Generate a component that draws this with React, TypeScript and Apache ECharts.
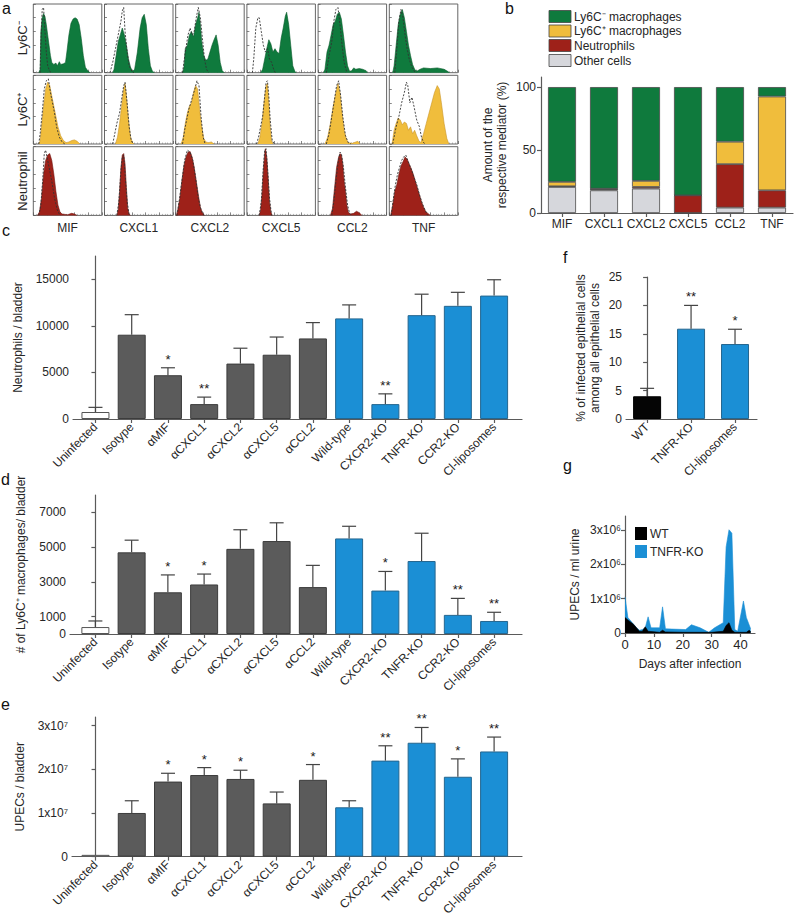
import React, { useEffect, useRef } from 'react';
import * as echarts from 'echarts';

const FONT = '"Liberation Sans", Arial, Helvetica, sans-serif';
const TXT = '#262626';
const AX = '#5a5a5a';

// ---------- panel a: flow cytometry histograms (x: % of box width, y: % of box height) ----------
const histMarkers = ['MIF', 'CXCL1', 'CXCL2', 'CXCL5', 'CCL2', 'TNF'];
const histRows = ['Ly6C⁻', 'Ly6C⁺', 'Neutrophil'];
const rowColors = ['#0f7a3d', '#f0bd3c', '#9e2119'];
const rowLineColors = ['#0a5a2c', '#c9962a', '#6e1510'];

const lyNegFill = [
  [[8,0],[10,5],[11,60],[13,80],[15,86],[17,82],[19,70],[21,55],[23,40],[25,25],[27,15],[30,12],[33,14],[35,10],[38,16],[40,12],[44,13],[47,15],[49,30],[52,55],[55,72],[58,78],[61,80],[64,78],[67,70],[70,50],[73,25],[76,8],[80,2],[83,0]],
  [[12,0],[14,5],[17,25],[20,45],[23,55],[26,65],[29,55],[32,40],[35,20],[38,8],[41,2],[44,5],[48,30],[52,65],[55,80],[58,85],[61,70],[64,35],[67,10],[70,2],[73,0]],
  [[10,0],[12,8],[14,35],[17,40],[20,55],[23,60],[26,52],[29,70],[32,80],[34,88],[36,70],[38,45],[41,25],[44,18],[47,20],[50,30],[53,40],[56,48],[59,55],[62,40],[65,15],[68,3],[71,0]],
  [[20,0],[23,5],[26,20],[29,35],[32,48],[35,42],[38,30],[41,35],[44,30],[47,28],[50,50],[53,65],[56,82],[58,88],[61,70],[64,40],[67,10],[70,2],[72,0]],
  [[8,0],[10,5],[13,30],[16,40],[19,55],[22,70],[25,75],[28,85],[31,88],[34,78],[37,55],[40,30],[43,10],[46,2],[49,3],[52,7],[55,5],[60,6],[65,5],[70,3],[72,0]],
  [[5,0],[7,10],[10,40],[13,70],[16,85],[19,92],[22,80],[25,60],[28,40],[31,25],[34,12],[37,5],[40,2],[45,5],[50,7],[60,6],[70,7],[80,5],[85,2],[88,0]],
];
const lyNegIso = [
  [[10,0],[11,40],[13,92],[15,95],[17,60],[19,30],[21,10],[24,2],[27,0]],
  [[8,0],[12,15],[16,35],[20,55],[24,75],[26,90],[28,95],[30,60],[33,30],[36,10],[40,2],[43,0]],
  [[10,0],[14,30],[18,55],[21,65],[24,55],[27,60],[30,80],[33,95],[36,80],[39,50],[42,20],[45,5],[48,0]],
  [[8,0],[10,20],[13,65],[16,80],[18,80],[21,60],[24,40],[27,30],[30,35],[33,20],[36,15],[40,2],[43,0]],
  [[12,0],[16,25],[20,45],[23,75],[26,92],[29,95],[32,70],[35,40],[38,15],[42,0]],
  [[8,0],[11,35],[14,75],[17,92],[20,80],[23,55],[26,35],[29,20],[33,8],[38,0]],
];
const lyPosFill = [
  [[8,0],[10,5],[12,25],[15,55],[18,80],[21,90],[24,85],[27,70],[30,55],[33,40],[36,25],[40,12],[44,5],[48,2],[52,3],[56,5],[60,6],[64,4],[68,0]],
  [[16,0],[19,10],[22,30],[25,55],[28,80],[30,88],[32,70],[35,35],[38,10],[41,2],[43,0]],
  [[8,0],[11,10],[14,30],[17,45],[20,55],[23,60],[26,75],[29,85],[32,80],[35,50],[38,25],[41,8],[44,3],[48,2],[52,3],[56,0]],
  [[16,0],[19,10],[22,30],[25,60],[28,85],[30,88],[32,60],[34,25],[36,5],[38,0]],
  [[10,0],[14,10],[18,30],[22,55],[26,75],[29,88],[32,75],[35,45],[38,20],[41,8],[44,2],[50,1],[55,3],[58,4],[61,0]],
  [[4,0],[7,20],[10,30],[13,38],[16,35],[19,28],[22,32],[25,30],[28,20],[31,25],[34,15],[37,20],[40,12],[43,5],[46,2],[50,15],[54,30],[58,45],[62,60],[66,75],[70,85],[73,80],[76,60],[80,30],[84,8],[87,0]],
];
const lyPosIso = [
  [[8,0],[10,15],[13,45],[16,80],[19,92],[22,95],[25,75],[28,60],[31,45],[34,25],[38,10],[42,3],[46,0]],
  [[12,0],[15,15],[18,30],[22,45],[25,65],[28,85],[30,90],[33,60],[36,25],[39,5],[42,0]],
  [[10,0],[13,20],[16,35],[19,50],[22,60],[25,70],[28,80],[31,92],[34,85],[37,40],[40,10],[43,0]],
  [[14,0],[17,10],[20,25],[23,40],[26,70],[28,90],[30,92],[32,70],[34,35],[37,5],[40,0]],
  [[12,0],[16,15],[20,40],[24,65],[27,85],[30,92],[33,70],[36,40],[40,12],[44,2],[48,0]],
  [[5,0],[10,25],[14,40],[18,60],[22,75],[25,90],[27,85],[30,60],[33,68],[36,55],[40,35],[44,25],[47,10],[50,2],[53,0]],
];
const neutFill = [
  [[6,0],[9,5],[12,25],[15,60],[18,80],[21,88],[24,90],[27,80],[30,60],[33,35],[36,15],[39,5],[42,2],[50,1],[56,3],[60,2],[64,0]],
  [[18,0],[20,8],[22,35],[24,70],[26,88],[28,90],[30,75],[32,40],[34,10],[36,2],[38,0]],
  [[1,0],[3,8],[6,25],[9,50],[12,72],[15,85],[18,92],[21,93],[24,85],[27,70],[30,50],[33,30],[36,12],[39,4],[42,0]],
  [[18,0],[20,8],[22,30],[24,65],[26,90],[27,97],[29,85],[31,55],[33,20],[35,5],[37,0]],
  [[18,0],[21,10],[24,40],[27,70],[30,85],[32,90],[34,88],[36,75],[38,50],[40,35],[42,15],[44,5],[47,2],[52,3],[56,6],[60,4],[64,0]],
  [[2,0],[5,15],[8,35],[11,45],[14,60],[17,72],[20,78],[23,85],[26,82],[29,75],[32,68],[35,60],[38,50],[41,40],[44,30],[47,20],[50,12],[53,6],[56,3],[60,0]],
];
const neutIso = [
  [[8,0],[11,15],[14,55],[16,90],[18,95],[20,85],[23,70],[27,50],[31,25],[35,8],[39,0]],
  [[18,0],[21,20],[24,65],[26,85],[28,88],[30,60],[33,20],[36,0]],
  [[2,0],[5,20],[9,50],[13,80],[17,95],[21,92],[25,80],[29,55],[33,25],[37,8],[41,0]],
  [[18,0],[21,20],[24,70],[26,95],[28,97],[30,70],[33,25],[36,0]],
  [[20,0],[23,20],[26,50],[29,75],[32,92],[34,90],[37,70],[40,40],[43,15],[46,3],[49,0]],
  [[3,0],[6,25],[9,45],[12,60],[15,70],[18,80],[21,85],[24,88],[27,80],[30,72],[33,65],[36,55],[40,45],[44,30],[48,18],[52,8],[56,0]],
];

// ---------- panel b ----------
const bCats = ['MIF', 'CXCL1', 'CXCL2', 'CXCL5', 'CCL2', 'TNF'];
const bOther = [20.7, 18, 19.4, 0, 4.3, 4.3];
const bNeut = [0.5, 1, 1.3, 14, 34.5, 13.7];
const bLy6cPos = [3.5, 0.3, 4.8, 0, 17.8, 74.5];
const bLy6cNeg = [75.3, 80.7, 74.5, 86, 43.4, 7.5];
const bLegend = ['Ly6C⁻ macrophages', 'Ly6C⁺ macrophages', 'Neutrophils', 'Other cells'];
const bColors = ['#0f7a3d', '#f0bd3c', '#9e2119', '#d6d7dc'];

// ---------- panels c, d, e ----------
const groups = ['Uninfected', 'Isotype', 'αMIF', 'αCXCL1', 'αCXCL2', 'αCXCL5', 'αCCL2', 'Wild-type', 'CXCR2-KO', 'TNFR-KO', 'CCR2-KO', 'Cl-liposomes'];
const groupKind = ['white', 'gray', 'gray', 'gray', 'gray', 'gray', 'gray', 'blue', 'blue', 'blue', 'blue', 'blue'];

const neutMean = [750, 9050, 4700, 1600, 5950, 6900, 8650, 10800, 1600, 11150, 12150, 13250];
const neutErr = [1250, 11200, 5500, 2350, 7600, 8800, 10350, 12250, 2700, 13400, 13600, 14950];
const neutStars = ['', '', '*', '**', '', '', '', '', '**', '', '', ''];

const macMean = [400, 4700, 2400, 2850, 4900, 5350, 2700, 5500, 2500, 4200, 1100, 750];
const macErr = [750, 5400, 3400, 3450, 6000, 6400, 3950, 6200, 3600, 5800, 2050, 1250];
const macStars = ['', '', '*', '*', '', '', '', '', '*', '', '**', '**'];

const upecMean = [0.04e7, 1.0e7, 1.72e7, 1.87e7, 1.78e7, 1.22e7, 1.76e7, 1.13e7, 2.2e7, 2.61e7, 1.83e7, 2.41e7];
const upecErr = [0.04e7, 1.28e7, 1.91e7, 2.04e7, 1.98e7, 1.48e7, 2.11e7, 1.28e7, 2.54e7, 2.96e7, 2.24e7, 2.74e7];
const upecStars = ['', '', '*', '*', '*', '', '*', '', '**', '**', '*', '**'];

// ---------- panel f ----------
const fGroups = ['WT', 'TNFR-KO', 'Cl-liposomes'];
const fKind = ['black', 'blue', 'blue'];
const fMean = [4.0, 15.9, 13.2];
const fErr = [5.4, 20.0, 15.8];
const fStars = ['', '**', '*'];

// ---------- panel g (day, UPECs / ml urine) ----------
const gTnfrKo = [[0,1050000],[1,450000],[2,350000],[4,150000],[5,80000],[6,100000],[7,150000],[8,470000],[9,150000],[12,150000],[13,760000],[14,120000],[21,100000],[23,240000],[26,150000],[29,20000],[31,150000],[34,300000],[35,2500000],[36,3000000],[37,2900000],[38,100000],[39,50000],[41,930000],[42,450000],[43,230000],[43.5,120000]];
const gWt = [[0,450000],[1,380000],[3,250000],[5,50000],[6,50000],[7,180000],[8,50000],[12,20000],[13,80000],[14,30000],[20,20000],[30,20000],[34,50000],[35,220000],[36,300000],[37,80000],[38,20000],[42,20000],[43,80000],[43.5,40000]];

const kindColor: Record<string, string> = { white: '#ffffff', gray: '#5b5b5b', blue: '#1b8fd5', black: '#050505' };
const kindBorder: Record<string, string> = { white: '#555555', gray: '#3c3c3c', blue: '#25668f', black: '#000000' };

function buildOption() {
  const grid: any[] = [];
  const xAxis: any[] = [];
  const yAxis: any[] = [];
  const series: any[] = [];
  const graphic: any[] = [];

  const axLine = { show: true, lineStyle: { color: AX, width: 1.2 } };
  const axTick = (extra: any = {}) => ({ show: true, length: 4, lineStyle: { color: AX, width: 1.2 }, ...extra });
  const axLabel = (extra: any = {}) => ({ color: TXT, fontSize: 12, fontFamily: FONT, ...extra });

  // ----- panel a -----
  const fills = [lyNegFill, lyPosFill, neutFill];
  const isos = [lyNegIso, lyPosIso, neutIso];
  const tops = [4, 75.3, 146.7];
  for (let r = 0; r < 3; r++) {
    for (let c = 0; c < 6; c++) {
      const gi = grid.length;
      grid.push({ left: 33.3 + c * 71.2, top: tops[r], width: 68.5, height: 68.7, show: true, borderColor: '#666', borderWidth: 1, backgroundColor: '#fff' });
      xAxis.push({
        gridIndex: gi, type: 'value', min: 0, max: 100, interval: 20,
        axisLine: { show: false },
        axisTick: { show: true, inside: true, length: 3, lineStyle: { color: '#555', width: 0.7 } },
        minorTick: { show: true, splitNumber: 5, length: 1.5, lineStyle: { color: '#777', width: 0.5 } },
        axisLabel: { show: false }, splitLine: { show: false },
      });
      yAxis.push({
        gridIndex: gi, type: 'value', min: 0, max: 100, interval: 20,
        axisLine: { show: false },
        axisTick: { show: true, inside: true, length: 2.5, lineStyle: { color: '#555', width: 0.7 } },
        axisLabel: { show: false }, splitLine: { show: false },
      });
      series.push({
        type: 'line', xAxisIndex: gi, yAxisIndex: gi, data: fills[r][c], symbol: 'none', silent: true,
        lineStyle: { width: 0.6, color: rowLineColors[r] }, itemStyle: { color: rowColors[r] },
        areaStyle: { color: rowColors[r], opacity: 1 }, z: 2,
      });
      series.push({
        type: 'line', xAxisIndex: gi, yAxisIndex: gi, data: isos[r][c], symbol: 'none', silent: true,
        lineStyle: { width: 0.9, color: '#333', type: [2, 1.5] }, z: 3,
      });
    }
  }
  histMarkers.forEach((m, c) => {
    graphic.push({ type: 'text', x: 33.3 + c * 71.2 + 34.25, y: 228, style: { text: m, fill: TXT, font: `12px ${FONT}`, align: 'center', verticalAlign: 'middle', textAlign: 'center', textVerticalAlign: 'middle' } });
  });
  histRows.forEach((rname, r) => {
    graphic.push({ type: 'text', x: 22, y: tops[r] + 34.3, rotation: Math.PI / 2, style: { text: rname, fill: TXT, font: `13px ${FONT}`, align: 'center', verticalAlign: 'middle', textAlign: 'center', textVerticalAlign: 'middle' } });
  });

  // ----- panel b -----
  {
    const gi = grid.length;
    grid.push({ left: 541, top: 77, width: 252, height: 136 });
    xAxis.push({
      gridIndex: gi, type: 'category', data: bCats, boundaryGap: true,
      axisLine: axLine, axisTick: axTick({ alignWithLabel: true }),
      axisLabel: axLabel({ margin: 5, interval: 0 }),
      splitLine: { show: false },
    });
    yAxis.push({
      gridIndex: gi, type: 'value', min: 0, max: 108,
      axisLine: axLine, axisTick: axTick({ customValues: [0, 50, 100] }),
      axisLabel: axLabel({ customValues: [0, 50, 100], margin: 5 }), splitLine: { show: false },
      name: 'Amount of the\nrespective mediator (%)', nameLocation: 'middle', nameGap: 32,
      nameTextStyle: { color: TXT, fontSize: 12, fontFamily: FONT, lineHeight: 14 },
    });
    const stackData = [bOther, bNeut, bLy6cPos, bLy6cNeg];
    const stackNames = ['Other cells', 'Neutrophils', 'Ly6C⁺ macrophages', 'Ly6C⁻ macrophages'];
    const stackColors = [bColors[3], bColors[2], bColors[1], bColors[0]];
    stackData.forEach((arr, k) => {
      series.push({
        type: 'bar', name: stackNames[k], stack: 'b', xAxisIndex: gi, yAxisIndex: gi, barWidth: 28,
        data: arr,
        itemStyle: { color: stackColors[k], borderColor: '#4a4a4a', borderWidth: 0.8 },
      });
    });
    const lTops = [10.5, 25, 39.5, 54.5];
    bLegend.forEach((t, k) => {
      graphic.push({ type: 'rect', shape: { x: 549, y: lTops[k], width: 22, height: 12 }, style: { fill: bColors[k], stroke: '#444', lineWidth: 0.8 } });
      graphic.push({ type: 'text', x: 574, y: lTops[k] + 6, style: { text: t, fill: TXT, font: `12px ${FONT}`, align: 'left', verticalAlign: 'middle', textAlign: 'left', textVerticalAlign: 'middle' } });
    });
  }

  const errRender = (stars: string[]) => (params: any, api: any) => {
    const x = api.value(0);
    const m = api.value(1);
    const e = api.value(2);
    const p1 = api.coord([x, m]);
    const p2 = api.coord([x, e]);
    const children: any[] = [];
    if (e > m) {
      children.push({ type: 'line', shape: { x1: p1[0], y1: p1[1], x2: p2[0], y2: p2[1] }, style: { stroke: '#444', lineWidth: 1.2 } });
      children.push({ type: 'line', shape: { x1: p2[0] - 7, y1: p2[1], x2: p2[0] + 7, y2: p2[1] }, style: { stroke: '#444', lineWidth: 1.2 } });
    }
    const s = stars[params.dataIndex];
    if (s) {
      children.push({ type: 'text', x: p2[0], y: p2[1] - 2, style: { text: s, fill: '#1a1a1a', font: `13px ${FONT}`, align: 'center', verticalAlign: 'bottom', textAlign: 'center', textVerticalAlign: 'bottom' } });
    }
    return { type: 'group', children };
  };

  const barPanel = (cfg: {
    left: number; top: number; width: number; height: number; min: number; max: number;
    cats: string[]; kinds: string[]; mean: number[]; err: number[]; stars: string[];
    yMax: number; yTicks: number[]; yFmt: (v: number) => string; name: string; nameGap: number; nameLH?: number;
  }) => {
    const gi = grid.length;
    grid.push({ left: cfg.left, top: cfg.top, width: cfg.width, height: cfg.height });
    const idx = cfg.cats.map((_, i) => i);
    xAxis.push({
      gridIndex: gi, type: 'value', min: cfg.min, max: cfg.max,
      axisLine: axLine, axisTick: axTick({ customValues: idx }),
      axisLabel: axLabel({ customValues: idx, formatter: (v: number) => cfg.cats[Math.round(v)] ?? '', rotate: 45, margin: 6 }),
      splitLine: { show: false },
    });
    yAxis.push({
      gridIndex: gi, type: 'value', min: 0, max: cfg.yMax,
      axisLine: axLine, axisTick: axTick({ customValues: cfg.yTicks }),
      axisLabel: axLabel({ customValues: cfg.yTicks, formatter: cfg.yFmt, margin: 4 }), splitLine: { show: false },
      name: cfg.name, nameLocation: 'middle', nameGap: cfg.nameGap,
      nameTextStyle: { color: TXT, fontSize: 12, fontFamily: FONT, lineHeight: cfg.nameLH ?? 14 },
    });
    series.push({
      type: 'bar', xAxisIndex: gi, yAxisIndex: gi, barWidth: 28,
      data: cfg.mean.map((v, i) => ({ value: [i, v], itemStyle: { color: kindColor[cfg.kinds[i]], borderColor: kindBorder[cfg.kinds[i]], borderWidth: 1 } })),
    });
    series.push({
      type: 'custom', xAxisIndex: gi, yAxisIndex: gi, clip: false, silent: true, z: 5,
      data: cfg.mean.map((v, i) => [i, v, cfg.err[i]]),
      encode: { x: 0, y: 1 },
      renderItem: errRender(cfg.stars),
    });
  };

  // ----- panel c -----
  barPanel({
    left: 73, top: 256, width: 449, height: 163, min: -0.62, max: 11.77,
    cats: groups, kinds: groupKind, mean: neutMean, err: neutErr, stars: neutStars,
    yMax: 17500, yTicks: [0, 5000, 10000, 15000], yFmt: (v) => String(v),
    name: 'Neutrophils / bladder', nameGap: 40,
  });
  // ----- panel d -----
  barPanel({
    left: 70, top: 495, width: 452, height: 139, min: -0.7, max: 11.77,
    cats: groups, kinds: groupKind, mean: macMean, err: macErr, stars: macStars,
    yMax: 8000, yTicks: [0, 1000, 3000, 5000, 7000], yFmt: (v) => String(v),
    name: '# of Ly6C⁺ macrophages/ bladder', nameGap: 38,
  });
  // ----- panel e -----
  barPanel({
    left: 72, top: 717, width: 450, height: 146, min: -0.65, max: 11.77,
    cats: groups, kinds: groupKind, mean: upecMean, err: upecErr, stars: upecStars,
    yMax: 3.2e7, yTicks: [0, 1e7, 2e7, 3e7], yFmt: (v) => (v === 0 ? '0' : `${Math.round(v / 1e7)}x10⁷`),
    name: 'UPECs / bladder', nameGap: 41,
  });
  // ----- panel f -----
  barPanel({
    left: 626, top: 277, width: 131, height: 142, min: -0.48, max: 2.5,
    cats: fGroups, kinds: fKind, mean: fMean, err: fErr, stars: fStars,
    yMax: 25, yTicks: [0, 5, 10, 15, 20, 25], yFmt: (v) => String(v),
    name: '% of infected epithelial cells\namong all epithelial cells', nameGap: 24,
  });

  // ----- panel g -----
  {
    const gi = grid.length;
    grid.push({ left: 625, top: 516, width: 130, height: 117 });
    xAxis.push({
      gridIndex: gi, type: 'value', min: 0, max: 45,
      axisLine: axLine, axisTick: axTick({ customValues: [0, 10, 20, 30, 40] }),
      axisLabel: axLabel({ customValues: [0, 10, 20, 30, 40], fontSize: 13, margin: 5 }), splitLine: { show: false },
      name: 'Days after infection', nameLocation: 'middle', nameGap: 25,
      nameTextStyle: { color: TXT, fontSize: 12, fontFamily: FONT },
    });
    yAxis.push({
      gridIndex: gi, type: 'value', min: 0, max: 3.4e6,
      axisLine: axLine, axisTick: axTick({ customValues: [0, 1e6, 2e6, 3e6] }),
      axisLabel: axLabel({ customValues: [0, 1e6, 2e6, 3e6], formatter: (v: number) => (v === 0 ? '0' : `${Math.round(v / 1e6)}x10⁶`), fontSize: 12, margin: 4 }),
      splitLine: { show: false },
      name: 'UPECs / ml urine', nameLocation: 'middle', nameGap: 44,
      nameTextStyle: { color: TXT, fontSize: 12, fontFamily: FONT },
    });
    series.push({
      type: 'line', name: 'TNFR-KO', xAxisIndex: gi, yAxisIndex: gi, data: gTnfrKo, symbol: 'none', silent: true,
      lineStyle: { width: 0.6, color: '#1b8fd5' }, itemStyle: { color: '#1b8fd5' }, areaStyle: { color: '#1b8fd5', opacity: 1 }, z: 2,
    });
    series.push({
      type: 'line', name: 'WT', xAxisIndex: gi, yAxisIndex: gi, data: gWt, symbol: 'none', silent: true,
      lineStyle: { width: 0.6, color: '#000' }, itemStyle: { color: '#000' }, areaStyle: { color: '#000', opacity: 1 }, z: 3,
    });
    graphic.push({ type: 'rect', shape: { x: 635, y: 527, width: 12, height: 13 }, style: { fill: '#000' } });
    graphic.push({ type: 'text', x: 650, y: 533.5, style: { text: 'WT', fill: TXT, font: `12px ${FONT}`, align: 'left', verticalAlign: 'middle', textAlign: 'left', textVerticalAlign: 'middle' } });
    graphic.push({ type: 'rect', shape: { x: 635, y: 545, width: 12, height: 13 }, style: { fill: '#1b8fd5' } });
    graphic.push({ type: 'text', x: 650, y: 551.5, style: { text: 'TNFR-KO', fill: TXT, font: `12px ${FONT}`, align: 'left', verticalAlign: 'middle', textAlign: 'left', textVerticalAlign: 'middle' } });
  }

  // panel letters
  const letters: [string, number, number][] = [['a', 2, 8], ['b', 505, 8], ['c', 2, 230], ['d', 1, 479], ['e', 1, 704], ['f', 563, 257], ['g', 563, 465]];
  letters.forEach(([t, x, y]) => {
    graphic.push({ type: 'text', x, y, style: { text: t, fill: '#111', font: `16px ${FONT}`, align: 'left', verticalAlign: 'middle', textAlign: 'left', textVerticalAlign: 'middle' } });
  });

  return {
    animation: false,
    backgroundColor: '#ffffff',
    textStyle: { fontFamily: FONT },
    grid, xAxis, yAxis, series, graphic,
  };
}

export default function App() {
  const ref = useRef<HTMLDivElement>(null);
  useEffect(() => {
    document.body.style.margin = '0';
    const chart = echarts.init(ref.current!, null, { renderer: 'svg' });
    chart.setOption(buildOption() as any);
    return () => chart.dispose();
  }, []);
  return <div ref={ref} style={{ width: 800, height: 918 }} />;
}
